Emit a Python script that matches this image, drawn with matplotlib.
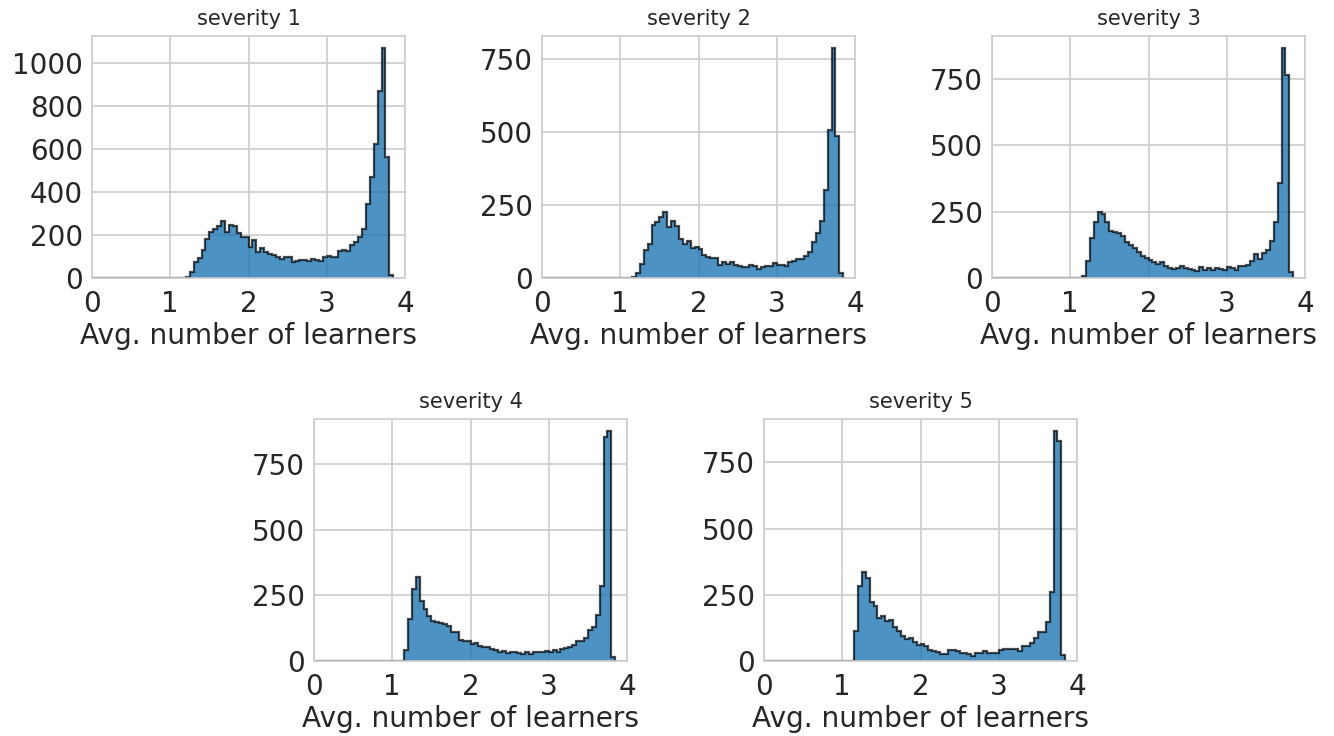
import numpy as np
import matplotlib
matplotlib.use("Agg")
import matplotlib.pyplot as plt
import seaborn as sns

sns.set_style("whitegrid")
plt.rcParams['font.family'] = ['DejaVu Sans']

# Histogram bins: width 0.05, starting at 0; counts listed from the first non-empty bin (1.15)
bin_width = 0.05
first_bin = 1.15
n_empty = 23  # bins 0.00 ... 1.10 are empty

titles = ["severity 1", "severity 2", "severity 3", "severity 4", "severity 5"]
xlabel = "Avg. number of learners"

counts_sev1 = [2, 5, 30, 73, 93, 130, 179, 216, 228, 241, 267, 216, 247, 241, 210, 191, 191,
               143, 177, 120, 140, 120, 112, 109, 99, 89, 96, 96, 76, 81, 85, 84, 79, 87, 82, 78, 99,
               104, 99, 96, 124, 132, 124, 155, 168, 189, 227,
               342, 469, 621, 870, 1071, 562, 14]
counts_sev2 = [3, 17, 48, 96, 115, 182, 191, 208, 225, 174, 195, 179, 133, 117, 127, 102, 105,
               101, 80, 72, 70, 69, 45, 54, 49, 55, 46, 41, 36, 36, 45, 40, 31, 36, 42, 42, 50,
               45, 45, 42, 54, 58, 64, 66, 77, 90, 124,
               153, 197, 301, 506, 790, 486, 16]
counts_sev3 = [9, 63, 152, 210, 250, 240, 210, 178, 173, 168, 158, 137, 126, 114, 99, 84, 74,
               69, 59, 54, 59, 44, 39, 34, 39, 44, 39, 34, 31, 28, 40, 31, 39, 31, 36, 35, 31,
               41, 39, 31, 45, 46, 49, 64, 89, 72, 95,
               107, 141, 211, 359, 867, 764, 23]
counts_sev4 = [42, 158, 274, 319, 230, 198, 173, 153, 148, 145, 141, 135, 112, 110, 80, 78, 76,
               64, 69, 58, 52, 55, 44, 40, 35, 37, 32, 35, 33, 32, 28, 34, 28, 35, 33, 35, 38,
               36, 40, 35, 44, 50, 55, 61, 76, 76, 89,
               118, 129, 176, 285, 851, 877, 14]
counts_sev5 = [112, 282, 335, 315, 222, 206, 163, 168, 150, 153, 127, 112, 96, 83, 87, 70, 61,
               64, 55, 41, 39, 35, 28, 28, 41, 42, 39, 30, 30, 26, 18, 32, 30, 36, 30, 32, 32,
               41, 47, 45, 45, 47, 39, 55, 58, 68, 87,
               111, 111, 147, 261, 870, 832, 22]

all_counts = [counts_sev1, counts_sev2, counts_sev3, counts_sev4, counts_sev5]

yticks = [
    [0, 200, 400, 600, 800, 1000],
    [0, 250, 500, 750],
    [0, 250, 500, 750],
    [0, 250, 500, 750],
    [0, 250, 500, 750],
]

W, H = 1334, 736
fig = plt.figure(figsize=(W / 100, H / 100), dpi=100)

# axes boxes in pixels: (left, top, right, bottom)
boxes = [
    (92, 36, 405, 278),
    (542, 36, 855, 278),
    (992, 36, 1305, 278),
    (314, 419, 627, 661),
    (764, 419, 1077, 661),
]

text_color = "#262626"
for i, (counts, box) in enumerate(zip(all_counts, boxes)):
    l, t, r, b = box
    ax = fig.add_axes([l / W, 1 - b / H, (r - l) / W, (b - t) / H])
    vals = np.concatenate([np.zeros(n_empty), np.array(counts, dtype=float)])
    edges = np.arange(len(vals) + 1) * bin_width
    ax.stairs(vals, edges, fill=True, color="#1f77b4", alpha=0.8, linewidth=0)
    ax.stairs(vals, edges, fill=False, color="black", alpha=0.7, linewidth=1.6)
    ax.set_xlim(0, 4)
    ax.set_ylim(0, max(counts) * 1.05)
    ax.set_xticks([0, 1, 2, 3, 4])
    ax.set_yticks(yticks[i])
    ax.tick_params(axis="both", labelsize=20, colors=text_color)
    ax.tick_params(axis="x", pad=5)
    ax.tick_params(axis="y", pad=3)
    ax.set_xlabel(xlabel, fontsize=20.2, color=text_color, labelpad=3)
    ax.set_title(titles[i], fontsize=15, color=text_color, pad=8)
    ax.grid(True, color="#cccccc", linewidth=1.2)
    for s in ax.spines.values():
        s.set_color("#cccccc")
        s.set_linewidth(1.2)
    ax.set_axisbelow(True)

fig.savefig("out.png", dpi=100)
